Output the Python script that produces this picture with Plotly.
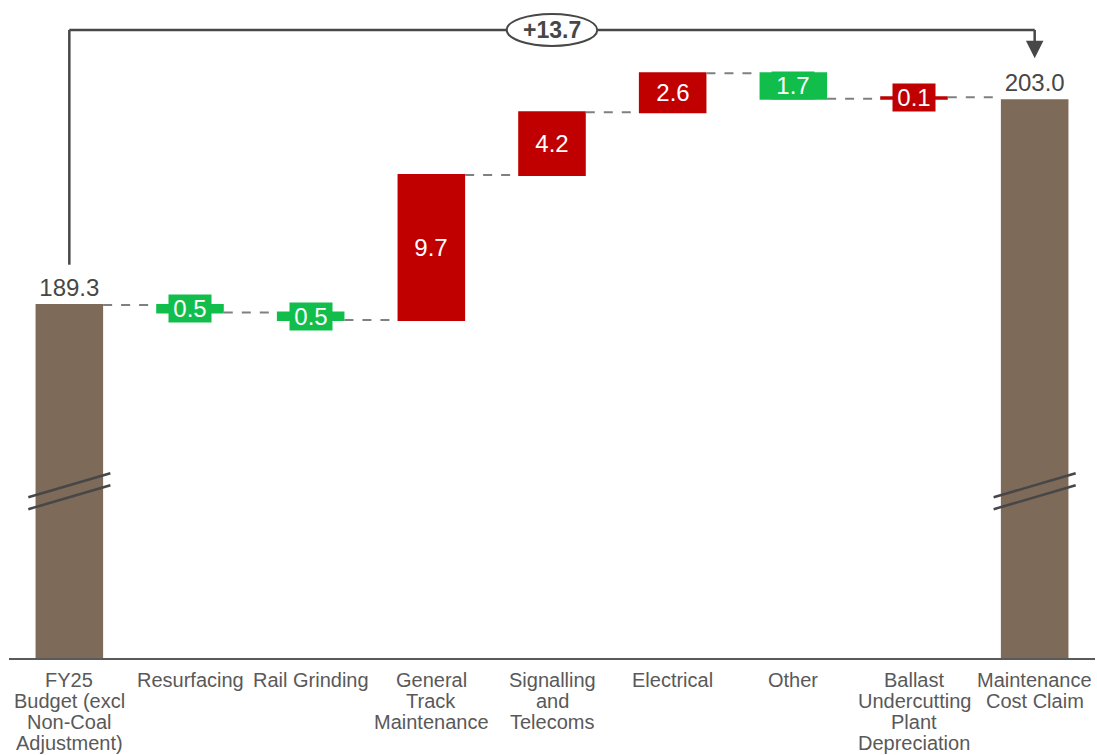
import plotly.graph_objects as go

# Maintenance cost bridge: FY25 budget to maintenance cost claim ($m)
categories = [
    "FY25<br>Budget (excl<br>Non-Coal<br>Adjustment)",
    "Resurfacing",
    "Rail Grinding",
    "General<br>Track<br>Maintenance",
    "Signalling<br>and<br>Telecoms",
    "Electrical",
    "Other",
    "Ballast<br>Undercutting<br>Plant<br>Depreciation",
    "Maintenance<br>Cost Claim",
]
start_value = 189.3
deltas = [-0.5, -0.5, 9.7, 4.2, 2.6, -1.7, 0.1]
end_value = 203.0

BROWN = "#7D6A58"
RED = "#C00000"
GREEN = "#12BE4B"
DARK = "#474747"
LABEL_GREY = "#595959"
FONT = "Arial, Liberation Sans, sans-serif"

values = [start_value] + deltas + [end_value]
measures = ["absolute"] + ["relative"] * len(deltas) + ["absolute"]
totals_text = [f"{start_value:.1f}"] + [""] * len(deltas) + [f"{end_value:.1f}"]

fig = go.Figure()
fig.add_trace(go.Waterfall(
    x=list(range(len(categories))),
    y=values,
    measure=measures,
    text=totals_text,
    textposition="outside",
    outsidetextfont=dict(size=24, color=DARK, family=FONT),
    increasing=dict(marker=dict(color=RED, line=dict(width=0))),
    decreasing=dict(marker=dict(color=GREEN, line=dict(width=0))),
    totals=dict(marker=dict(color=BROWN, line=dict(width=0))),
    connector=dict(mode="between", line=dict(color="#808080", width=2, dash="dash")),
    hoverinfo="skip",
    cliponaxis=False,
))

# Value boxes on each step bar, centred on the bar
annotations = []
running = start_value
for i, d in enumerate(deltas, start=1):
    mid = running + d / 2
    running += d
    annotations.append(dict(
        x=i, y=mid, xref="x", yref="y", text=f"{abs(d):.1f}", showarrow=False,
        font=dict(size=24, color="white", family=FONT),
        bgcolor=RED if d > 0 else GREEN, borderpad=0, height=27, width=42,
    ))

# Category labels, one line at a time for tight line spacing
for i, label in enumerate(categories):
    for k, line in enumerate(label.split("<br>")):
        annotations.append(dict(
            x=i, y=0, xref="x", yref="paper", yanchor="top", yshift=-9 - 21 * k,
            text=line, showarrow=False,
            font=dict(size=20, color=LABEL_GREY, family=FONT),
        ))

# Overall change bracket from the first to the last total
change = end_value - start_value
bracket_y = 207.7
last = len(categories) - 1
shapes = [
    dict(type="line", xref="x", yref="y", x0=0, x1=0, y0=start_value + 2.7, y1=bracket_y,
         line=dict(color=DARK, width=2.5)),
    dict(type="line", xref="x", yref="y", x0=0, x1=last, y0=bracket_y, y1=bracket_y,
         line=dict(color=DARK, width=2.5)),
    dict(type="line", xref="x", yref="y", x0=last, x1=last, y0=bracket_y, y1=end_value + 3.4,
         line=dict(color=DARK, width=2.5)),
    dict(type="circle", xref="x", yref="y", x0=last / 2 - 0.375, x1=last / 2 + 0.375,
         y0=bracket_y - 1.07, y1=bracket_y + 1.07, fillcolor="white",
         line=dict(color=DARK, width=2)),
]
annotations.append(dict(
    x=last, y=end_value + 2.8, xref="x", yref="y", ax=last, ay=end_value + 3.6,
    axref="x", ayref="y", text="", showarrow=True, arrowhead=2, arrowsize=1.4,
    arrowwidth=2.5, arrowcolor=DARK,
))
annotations.append(dict(
    x=last / 2, y=bracket_y, xref="x", yref="y", text=f"<b>+{change:.1f}</b>",
    showarrow=False, font=dict(size=23, color=DARK, family=FONT),
))

# Axis-break marks across the two total bars
for i in (0, last):
    for off in (0.0, -0.8):
        shapes.append(dict(
            type="line", xref="x", yref="y", x0=i - 0.34, x1=i + 0.34,
            y0=176.45 + off, y1=178.05 + off, line=dict(color=DARK, width=2.5),
        ))

fig.update_layout(
    width=1097, height=755,
    margin=dict(l=9, r=2, t=0, b=97),
    paper_bgcolor="white", plot_bgcolor="white",
    showlegend=False,
    waterfallgap=0.44,
    font=dict(family=FONT),
    shapes=shapes,
    annotations=annotations,
)
fig.update_xaxes(
    range=[-0.5, len(categories) - 0.5], showticklabels=False,
    showline=True, linecolor="#5A5A5A", linewidth=2, ticks="", showgrid=False,
    zeroline=False,
)
fig.update_yaxes(range=[165.7, 209.7], visible=False, showgrid=False, zeroline=False)

fig.write_html("out.html")
